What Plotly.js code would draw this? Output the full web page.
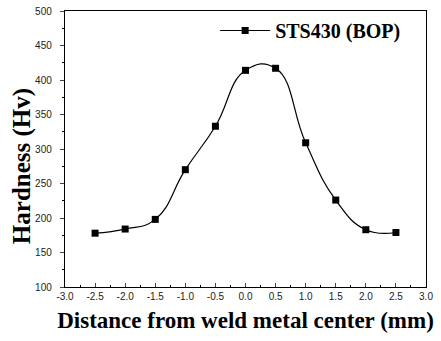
<!DOCTYPE html>
<html><head><meta charset="utf-8">
<script src="https://cdn.plot.ly/plotly-3.0.1.min.js"></script>
<style>html,body{margin:0;padding:0;background:#fff}#c{width:441px;height:341px}</style>
</head><body><div id="c"></div>
<script>
const distance = [-2.5, -2.0, -1.5, -1.0, -0.5, 0.0, 0.5, 1.0, 1.5, 2.0, 2.5];
const hardness = [178, 184, 198, 270, 333, 414, 417, 309, 226, 183, 179];
const seriesName = "STS430 (BOP)";
const xTicks = [-3.0, -2.5, -2.0, -1.5, -1.0, -0.5, 0.0, 0.5, 1.0, 1.5, 2.0, 2.5, 3.0];
const xTickLabels = ["-3.0","-2.5","-2.0","-1.5","-1.0","-0.5","0.0","0.5","1.0","1.5","2.0","2.5","3.0"];
const yTicks = [100, 150, 200, 250, 300, 350, 400, 450, 500];
const xTitle = 'Distance from weld metal center (mm)';
const yTitle = 'Hardness (Hv)';

const serif = "Liberation Serif, Times New Roman, serif";
Plotly.newPlot('c', [{
  x: distance, y: hardness, name: seriesName, type: 'scatter', mode: 'lines+markers',
  line: {color: '#000', width: 1.2, shape: 'spline', smoothing: 1.3},
  marker: {symbol: 'square', size: 7, color: '#000'}
}], {
  width: 441, height: 341,
  margin: {l: 65, r: 15, t: 11, b: 54},
  paper_bgcolor: '#fff', plot_bgcolor: '#fff',
  showlegend: true,
  legend: {x: 0.945, xanchor: 'right', y: 1.0, yanchor: 'top', bgcolor: 'rgba(0,0,0,0)',
    itemwidth: 50,
    font: {family: serif, size: 20, color: '#000', weight: 'bold'}},
  xaxis: {range: [-3, 3], tickvals: xTicks, ticktext: xTickLabels, ticks: 'inside', ticklen: 4,
    showline: true, linecolor: '#000', linewidth: 1.2, mirror: true, showgrid: false, zeroline: false,
    minor: {dtick: 0.25, ticks: 'inside', ticklen: 2, tickcolor: '#000'},
    tickfont: {family: 'Liberation Sans, Arial, sans-serif', size: 10, color: '#222'},
    title: {text: xTitle, standoff: 10,
      font: {family: serif, size: 23, color: '#000', weight: 'bold'}}},
  yaxis: {range: [100, 500], tickvals: yTicks, ticks: 'outside', ticklen: 4,
    showline: true, linecolor: '#000', linewidth: 1.2, mirror: true, showgrid: false, zeroline: false,
    minor: {dtick: 25, ticks: 'outside', ticklen: 2, tickcolor: '#000'},
    ticklabelstandoff: 6,
    tickfont: {family: 'Liberation Sans, Arial, sans-serif', size: 10, color: '#222'}},
  annotations: [{text: yTitle, textangle: -90, xref: 'paper', yref: 'paper',
    x: -0.119, y: 0.438, xanchor: 'center', yanchor: 'middle', showarrow: false,
    font: {family: serif, size: 25, color: '#000', weight: 'bold'}}]
}, {displayModeBar: false, staticPlot: true});
</script></body></html>
